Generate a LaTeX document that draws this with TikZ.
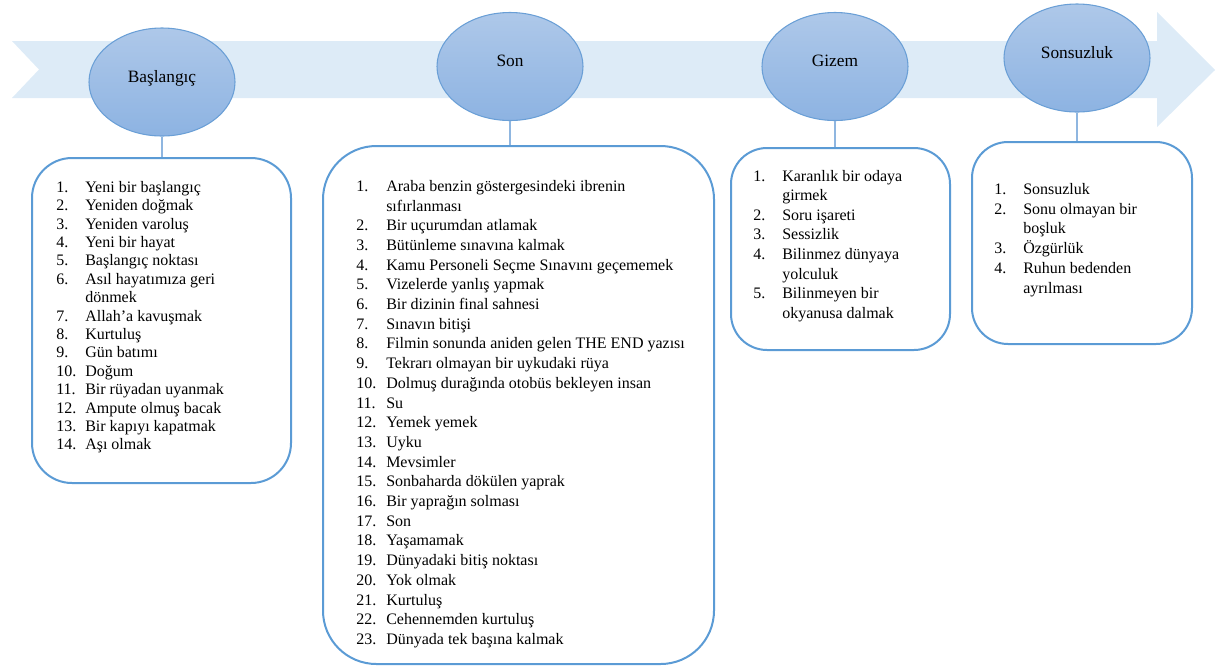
\documentclass[tikz,border=0pt]{standalone}
\usepackage{fontspec}
\setmainfont{Liberation Serif}
\usetikzlibrary{shapes.geometric}
\definecolor{bandblue}{HTML}{DDEBF7}
\definecolor{elltop}{HTML}{AEC8E9}
\definecolor{ellbot}{HTML}{8DB3E2}
\definecolor{ellline}{HTML}{6A9FD6}
\definecolor{boxline}{HTML}{5B9BD5}
\definecolor{conline}{HTML}{8FB6E0}
\newcommand\placelist[6]{%
  \foreach [count=\i from 0] \nm/\tx in {#6} {%
    \node[itm] (#1n\i) at (#2, #4+\i*#5) {\nm};
    \node[itm] (#1t\i) at (#3, #4+\i*#5) {\tx};
  }%
}
\begin{document}
\begin{tikzpicture}[x=0.75pt,y=-0.75pt,
  topic/.style={ellipse, draw=ellline, line width=0.8pt, top color=elltop, bottom color=ellbot,
    minimum width=109.5pt, minimum height=81pt, inner sep=0pt, font=\fontsize{13}{15}\selectfont,
    text height=9pt, text depth=9pt},
  listbox/.style={draw=boxline, line width=1.5pt, fill=white, rectangle, inner sep=0pt},
  conn/.style={draw=conline, line width=0.9pt},
  itm/.style={anchor=west, inner sep=0pt, font=\fontsize{12}{14}\selectfont, text height=8pt, text depth=0pt}
]
\useasboundingbox (0,0) rectangle (1222,669);
% background arrow band
\fill[bandblue] (12,41) -- (1157,41) -- (1157,12) -- (1215,70) -- (1157,127) -- (1157,98) -- (12,98) -- (39,69.5) -- cycle;
% topic ellipses
\node[topic] (e1) at (162,82) {Başlangıç};
\node[topic] (e2) at (510,66.5) {Son};
\node[topic] (e3) at (835,66.5) {Gizem};
\node[topic] (e4) at (1077,58) {Sonsuzluk};
% list boxes
\node[listbox, rounded corners=30pt, minimum width=194.25pt, minimum height=243.75pt] (b1) at (161.5,320.5) {};
\node[listbox, rounded corners=40pt, minimum width=293.25pt, minimum height=388.5pt] (b2) at (518.5,405) {};
\node[listbox, rounded corners=27pt, minimum width=164.25pt, minimum height=151.5pt] (b3) at (840.5,249) {};
\node[listbox, rounded corners=27pt, minimum width=165pt, minimum height=151.5pt] (b4) at (1082,243) {};
% connectors
\draw[conn] (e1.south) -- (e1.south |- b1.north);
\draw[conn] (e2.south) -- (e2.south |- b2.north);
\draw[conn] (e3.south) -- (e3.south |- b3.north);
\draw[conn] (e4.south) -- (e4.south |- b4.north);
% lists
\placelist{a}{56}{85}{187}{18.4}{1./Yeni bir başlangıç, 2./Yeniden doğmak, 3./Yeniden varoluş, 4./Yeni bir hayat, 5./Başlangıç noktası, 6./Asıl hayatımıza geri, {}/dönmek, 7./Allah’a kavuşmak, 8./Kurtuluş, 9./Gün batımı, 10./Doğum, 11./Bir rüyadan uyanmak, 12./Ampute olmuş bacak, 13./Bir kapıyı kapatmak, 14./Aşı olmak}
\placelist{b}{356}{386}{186}{19.7}{1./Araba benzin göstergesindeki ibrenin, {}/sıfırlanması, 2./Bir uçurumdan atlamak, 3./Bütünleme sınavına kalmak, 4./Kamu Personeli Seçme Sınavını geçememek, 5./Vizelerde yanlış yapmak, 6./Bir dizinin final sahnesi, 7./Sınavın bitişi, 8./Filmin sonunda aniden gelen THE END yazısı, 9./Tekrarı olmayan bir uykudaki rüya, 10./Dolmuş durağında otobüs bekleyen insan, 11./Su, 12./Yemek yemek, 13./Uyku, 14./Mevsimler, 15./Sonbaharda dökülen yaprak, 16./Bir yaprağın solması, 17./Son, 18./Yaşamamak, 19./Dünyadaki bitiş noktası, 20./Yok olmak, 21./Kurtuluş, 22./Cehennemden kurtuluş, 23./Dünyada tek başına kalmak}
\placelist{c}{753}{782}{176}{19.55}{1./Karanlık bir odaya, {}/girmek, 2./Soru işareti, 3./Sessizlik, 4./Bilinmez dünyaya, {}/yolculuk, 5./Bilinmeyen bir, {}/okyanusa dalmak}
\placelist{d}{994}{1023}{189}{19.8}{1./Sonsuzluk, 2./Sonu olmayan bir, {}/boşluk, 3./Özgürlük, 4./Ruhun bedenden, {}/ayrılması}
\end{tikzpicture}
\end{document}
